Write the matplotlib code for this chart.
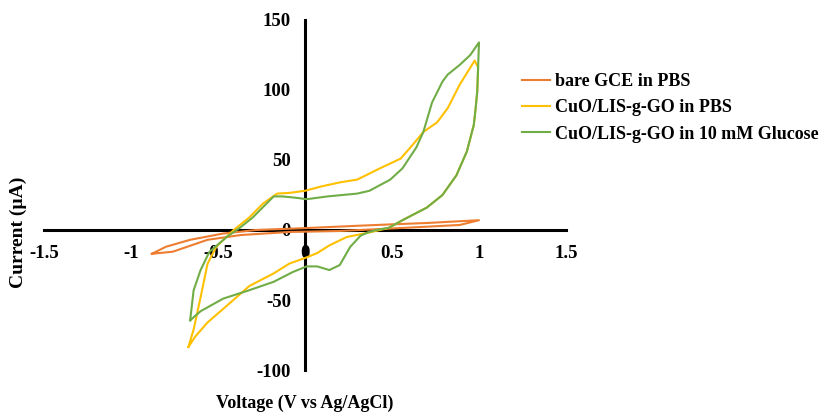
import matplotlib
matplotlib.use('Agg')
import matplotlib.pyplot as plt

# Cyclic voltammograms, values
# bare GCE in PBS
bare_v = [-0.88, -0.80, -0.66, -0.47, -0.28, 0.01, 0.30, 0.49, 0.70, 1.00,
          0.89, 0.55, 0.20, -0.09, -0.37, -0.56, -0.76, -0.88]
bare_i = [-17, -12, -7, -2.5, 0, 1.4, 3, 4, 5, 7,
          3.6, 1.4, -0.7, -1.4, -3.6, -7, -15.5, -17]

# CuO/LIS-g-GO in PBS
pbs_v = [-0.67, -0.64, -0.60, -0.56, -0.51, -0.41, -0.32, -0.24, -0.16, -0.09,
         0.00, 0.09, 0.20, 0.30, 0.43, 0.55, 0.62, 0.68, 0.76, 0.82, 0.89,
         0.975, 0.995,
         0.99, 0.98, 0.97, 0.93, 0.87, 0.79, 0.70, 0.56, 0.48, 0.36, 0.24, 0.14,
         0.07, 0.00, -0.09, -0.18, -0.32, -0.43, -0.56, -0.63, -0.67]
pbs_i = [-83.5, -71, -48, -24, -12, 0, 9, 19, 26, 26.5,
         28, 31, 34, 36, 44, 51, 61, 70, 77, 87, 104,
         121, 116,
         99, 86, 75, 56, 39, 25, 16, 7, 1.4, -2, -5, -11,
         -16.5, -20, -24, -31, -40, -52, -66, -76, -83.5]

# CuO/LIS-g-GO in 10 mM Glucose
glu_v = [-0.66, -0.64, -0.60, -0.55, -0.45, -0.37, -0.30, -0.22, -0.18, -0.13,
         -0.05, 0.01, 0.13, 0.30, 0.37, 0.43, 0.49, 0.56, 0.64, 0.68, 0.73,
         0.79, 0.82, 0.89, 0.95, 1.00,
         0.99, 0.98, 0.97, 0.93, 0.87, 0.79, 0.70, 0.56, 0.48, 0.41, 0.36, 0.32,
         0.26, 0.20, 0.14, 0.07, 0.01, -0.07, -0.18, -0.32, -0.47, -0.60, -0.66]
glu_i = [-64.5, -43, -28.6, -15.7, -5, 2, 9, 19, 24, 24,
         23, 22, 24, 26, 28, 32, 36, 44, 59, 70, 91,
         106, 111, 118, 125, 134,
         99, 86, 75, 56, 39, 25, 16, 7, 1.5, 0, -1.8, -4,
         -12, -25, -28.6, -26, -26, -30, -37, -43, -49, -58, -64.5]

labels = ['bare GCE in PBS', 'CuO/LIS-g-GO in PBS', 'CuO/LIS-g-GO in 10 mM Glucose']
colors = ['#ED7D31', '#FFC000', '#70AD47']
x_ticks = [-1.5, -1, -0.5, 0, 0.5, 1, 1.5]
x_tick_labels = ['-1.5', '-1', '-0.5', '0', '0.5', '1', '1.5']
y_ticks = [-100, -50, 0, 50, 100, 150]

plt.rcParams['font.family'] = ['Liberation Serif', 'DejaVu Serif']
plt.rcParams['font.weight'] = 'bold'
plt.rcParams['font.size'] = 13
plt.rcParams['axes.unicode_minus'] = False

fig = plt.figure(figsize=(8.21, 4.13), dpi=100)
ax = fig.add_axes([0.0536, 0.1041, 0.6358, 0.8475])

for v, i, lab, col in zip([bare_v, pbs_v, glu_v], [bare_i, pbs_i, glu_i], labels, colors):
    ax.plot(v, i, color=col, lw=1.5, label=lab, zorder=3)

ax.set_xlim(-1.5, 1.5)
ax.set_ylim(-100, 150)
ax.set_xticks(x_ticks)
ax.set_xticklabels(x_tick_labels)
ax.set_yticks(y_ticks)
ax.tick_params(labelsize=13.5)

# Excel style axes crossing at the origin
ax.spines['left'].set_position(('data', 0))
ax.spines['bottom'].set_position(('data', 0))
ax.spines['top'].set_visible(False)
ax.spines['right'].set_visible(False)
for s in ['left', 'bottom']:
    ax.spines[s].set_linewidth(2.2)
    ax.spines[s].set_zorder(2)
ax.tick_params(axis='x', length=0, pad=11)
ax.tick_params(axis='y', length=0, pad=10)
ax.patch.set_visible(False)

fig.text(0.022, 0.438, 'Current (\u00b5A)', rotation=90, ha='center', va='center',
         fontweight='bold', fontsize=14)
fig.text(0.3715, 0.024, 'Voltage (V vs Ag/AgCl)', ha='center', va='center',
         fontweight='bold')

ax.legend(loc='center left', bbox_to_anchor=(0.6358, 0.7385),
          bbox_transform=fig.transFigure, frameon=False, borderpad=0,
          borderaxespad=0, handlelength=1.55, handletextpad=0.3,
          labelspacing=0.5)

fig.savefig('out.png', dpi=100)
